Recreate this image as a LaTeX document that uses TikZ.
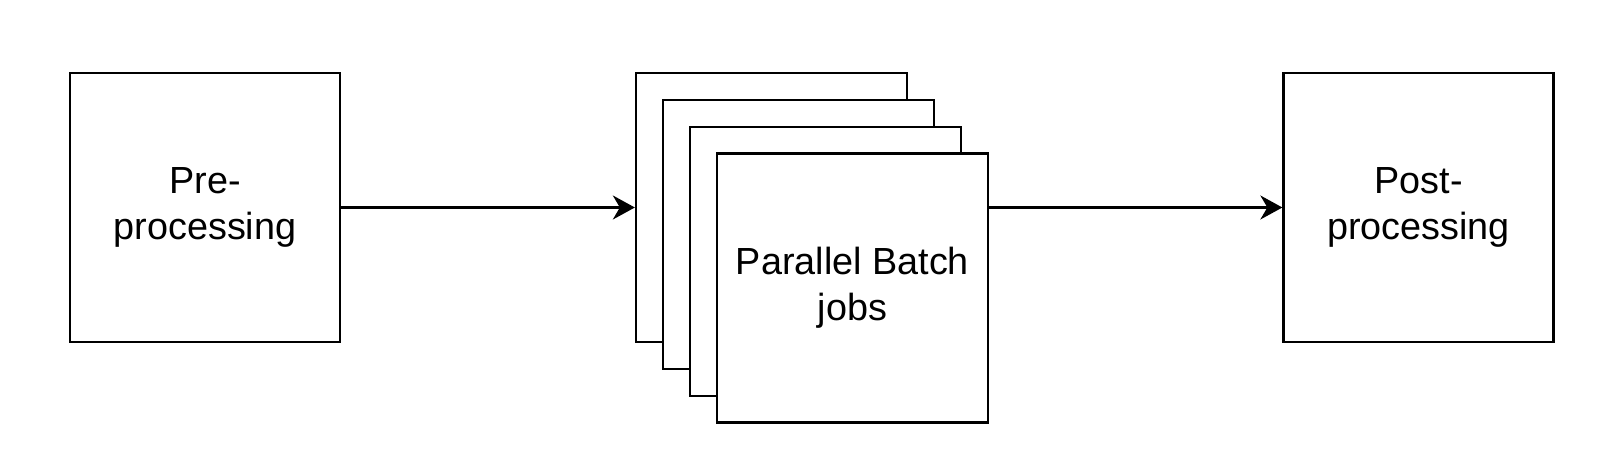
\documentclass[tikz,border=0pt]{standalone}
\usepackage{fontspec}
\setmainfont{Liberation Sans}
\usetikzlibrary{arrows.meta}

\begin{document}
\begin{tikzpicture}[
  x=1cm,
  y=1cm,
  >=Stealth,
  proc/.style={draw, line width=1.3pt, fill=white, align=center,
    minimum width=5.4cm, minimum height=5.38cm, inner sep=0pt,
    font=\fontsize{21.5pt}{26pt}\selectfont},
  job/.style={proc, minimum width=5.42cm},
  flow/.style={-{Stealth[length=4.4mm, width=4.8mm, inset=1.4mm]}, line width=1.3pt}
]
\useasboundingbox (0,0) rectangle (32.24,-9.16);
\node[proc] (pre) at (4.10,-4.15) {Pre-\\processing};
\node[job] (job1) at (15.43,-4.15) {};
\node[job] (job2) at (15.97,-4.69) {};
\node[job] (job3) at (16.51,-5.23) {};
\node[job] (job4) at (17.05,-5.76) {Parallel Batch\\jobs};
\node[proc] (post) at (28.37,-4.15) {Post-\\processing};
\draw[flow] (pre.east) -- (job1.west);
\draw[flow] (job4.east |- post.west) -- (post.west);
\end{tikzpicture}
\end{document}
